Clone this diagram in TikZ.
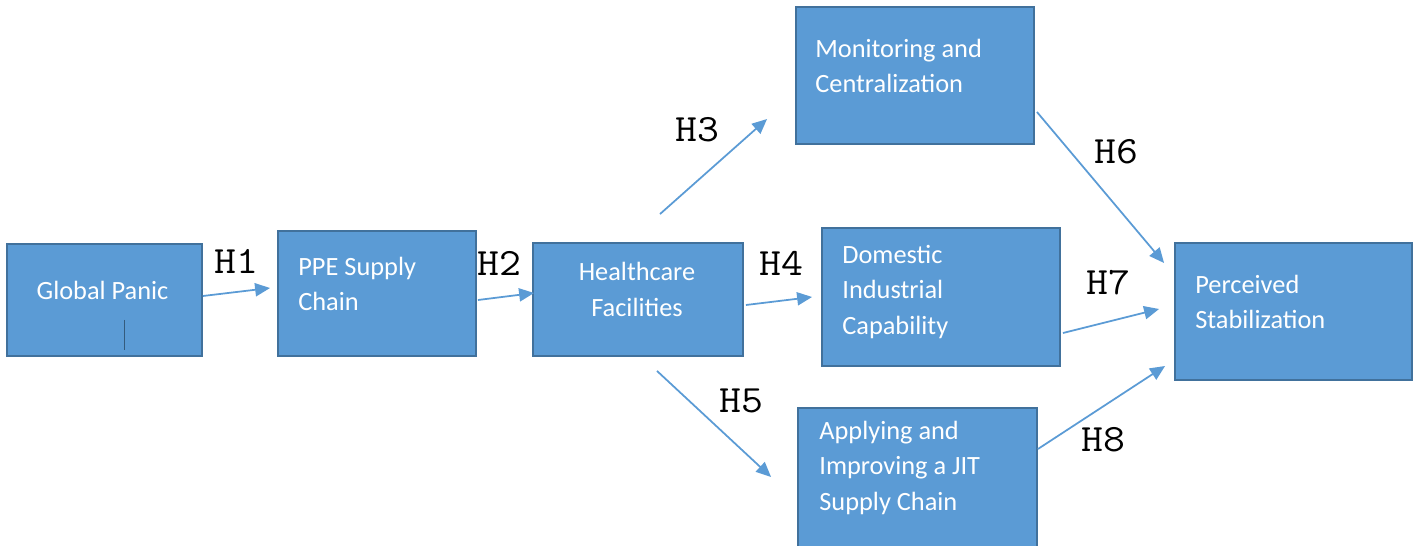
\documentclass[tikz,border=0pt]{standalone}
\usepackage{fontspec}
\setmainfont{Carlito}
\newfontfamily\hypfont[FakeStretch = 1.1]{Latin Modern Mono}
\usetikzlibrary{arrows.meta}
\definecolor{boxfill}{HTML}{5B9BD5}
\definecolor{boxline}{HTML}{41719C}
\definecolor{linkblue}{HTML}{5B9BD5}

\begin{document}
\begin{tikzpicture}[x = 0.02cm, y = -0.02cm,
    box/.style = {draw = boxline, fill = boxfill, line width = 1.1pt, inner sep = 0pt},
    txt/.style = {text = white, font = \fontsize{15}{20.2}\selectfont, inner sep = 0pt},
    hyp/.style = {font = \hypfont\fontsize{22}{22}\selectfont, inner sep = 0pt},
    link/.style = {draw = linkblue, line width = 1pt, -{Triangle[length = 8.5pt, width = 7.5pt]}}]
            \useasboundingbox (0, 0) rectangle (1419, 546);

            % Boxes
            \node[box, minimum width = 3.9cm, minimum height = 2.24cm] (gp) at (104.5, 300) {};
            \node[box, minimum width = 3.96cm, minimum height = 2.5cm] (ppe) at (377, 293.5) {};
            \node[box, minimum width = 4.2cm, minimum height = 2.26cm] (hc) at (638, 299.5) {};
            \node[box, minimum width = 4.76cm, minimum height = 2.74cm] (mc) at (915, 75.5) {};
            \node[box, minimum width = 4.76cm, minimum height = 2.76cm] (dic) at (941, 297) {};
            \node[box, minimum width = 4.74cm, minimum height = 2.74cm] (ps) at (1293.5, 311.5) {};
            \node[box, minimum width = 4.78cm, minimum height = 2.84cm] (jit) at (917.5, 479) {};
            \draw [boxline!80!black, line width = 0.5pt] (124, 320) -- (124, 350);

            % Box texts
            \node[txt, align = center] (gptext) at (102.5, 290) {Global Panic};
            \node[txt, align = left, anchor = west] (ppetext) at (298, 284) {PPE Supply\\Chain};
            \node[txt, align = center] (hctext) at (637, 289.5) {Healthcare\\Facilities};
            \node[txt, align = left, anchor = west] (mctext) at (815, 66) {Monitoring and\\Centralization};
            \node[txt, align = left, anchor = west] (dictext) at (842, 292) {Domestic\\Industrial\\Capability};
            \node[txt, align = left, anchor = west] (pstext) at (1195, 302) {Perceived\\Stabilization};
            \node[txt, align = left, anchor = west] (jittext) at (819, 467.5) {Applying and\\Improving a JIT\\Supply Chain};

            % Hypotheses
            \draw [link] ([shift = {(0, -4)}]gp.east) -- ([shift = {(-7, -5.5)}]ppe.west);
            \draw [link] ([shift = {(1, 6.5)}]ppe.east) -- ([shift = {(2, -6.5)}]hc.west);
            \draw [link] ([shift = {(22, -28)}]hc.north) -- ([shift = {(-28, 43.5)}]mc.west);
            \draw [link] ([shift = {(2, 5.5)}]hc.east) -- ([shift = {(-9, 0)}]dic.west);
            \draw [link] ([shift = {(19, 14)}]hc.south) -- ([shift = {(-26, -2)}]jit.west);
            \draw [link] ([shift = {(2, 36.5)}]mc.east) -- ([shift = {(-10, -48.5)}]ps.west);
            \draw [link] ([shift = {(2, 36)}]dic.east) -- ([shift = {(-15, -2.5)}]ps.west);
            \draw [link] ([shift = {(0, -30)}]jit.east) -- ([shift = {(-9, 54.5)}]ps.west);

            % Hypothesis labels
            \node[hyp] (h1) at (236.5, 261.5) {H1};
            \node[hyp] (h2) at (499, 263.5) {H2};
            \node[hyp] (h3) at (697.5, 130) {H3};
            \node[hyp] (h4) at (781, 263.5) {H4};
            \node[hyp] (h5) at (741.5, 401) {H5};
            \node[hyp] (h6) at (1116, 152) {H6};
            \node[hyp] (h7) at (1108.5, 282.5) {H7};
            \node[hyp] (h8) at (1103.5, 440) {H8};
        \end{tikzpicture}
\end{document}
